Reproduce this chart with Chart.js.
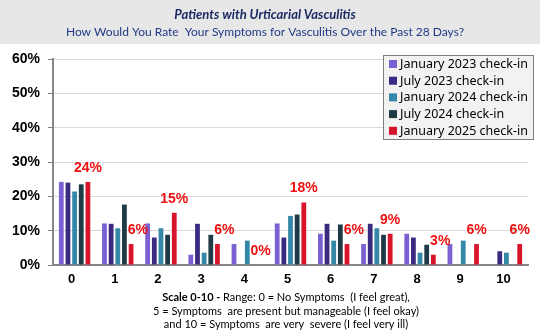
<!DOCTYPE html>
<html>
<head>
<meta charset="utf-8">
<script src="https://cdn.jsdelivr.net/npm/chart.js@4.4.1/dist/chart.umd.min.js"></script>
<style>
  html, body { margin: 0; padding: 0; background: #fff; }
  #wrap { width: 540px; height: 331px; }
</style>
</head>
<body>
<div id="wrap"><canvas id="chart" width="540" height="331"></canvas></div>
<script>
// rating scale 0-10
const categories = ["0", "1", "2", "3", "4", "5", "6", "7", "8", "9", "10"];

// percent of patients per rating
const jan2023 = [24.2, 12.1, 12.1, 3.0, 6.1, 12.1, 9.1, 6.1, 9.1, 6.1, 0];
const jul2023 = [24.0, 12.0, 8.0, 12.0, 0, 8.0, 12.0, 12.0, 8.0, 0, 4.0];
const jan2024 = [21.4, 10.7, 10.7, 3.6, 7.1, 14.3, 7.1, 10.7, 3.6, 7.1, 3.6];
const jul2024 = [23.5, 17.6, 8.8, 8.8, 0, 14.7, 11.8, 8.8, 5.9, 0, 0];
const jan2025 = [24.2, 6.1, 15.2, 6.1, 0, 18.2, 6.1, 9.1, 3.0, 6.1, 6.1];

const seriesNames = ["January 2023 check-in", "July 2023 check-in", "January 2024 check-in", "July 2024 check-in", "January 2025 check-in"];
const seriesColors = ["#7a60d0", "#3a2b80", "#3587a7", "#1f3a47", "#d8142b"];

const yMin = 0, yMax = 60, yStep = 10;

const titleLine1 = "Patients with Urticarial Vasculitis";
const titleLine2 = "How Would You Rate  Your Symptoms for Vasculitis Over the Past 28 Days?";
const footBold = "Scale 0-10 - ";
const footLine1 = "Range: 0 = No Symptoms  (I feel great),";
const footLine2 = "5 = Symptoms  are present but manageable (I feel okay)";
const footLine3 = "and 10 = Symptoms  are very  severe (I feel very ill)";

// grey header band + titles
const headerPlugin = {
    id: "header",
    beforeDraw(chart) {
        const ctx = chart.ctx;
        ctx.save();
        ctx.fillStyle = "#fff";
        ctx.fillRect(0, 0, chart.width, chart.height);
        ctx.fillStyle = "#e7e7e7";
        ctx.fillRect(0, 0, chart.width, 44);
        ctx.textAlign = "center";
        ctx.textBaseline = "middle";
        ctx.fillStyle = "#1b2a63";
        ctx.font = "italic bold 13px Lato";
        ctx.fillText(titleLine1, 265, 15);
        ctx.fillStyle = "#1f3a86";
        ctx.font = "12px Lato";
        ctx.fillText(titleLine2, 265, 32);
        ctx.restore();
    }
}

// footer note below the axis
const footerPlugin = {
    id: "footer",
    afterDraw(chart) {
        const ctx = chart.ctx;
        const cx = 286;
        ctx.save();
        ctx.fillStyle = "#000";
        ctx.textBaseline = "middle";
        ctx.font = "bold 11px Lato";
        const wb = ctx.measureText(footBold).width;
        ctx.font = "11px Lato";
        const wn = ctx.measureText(footLine1).width;
        let x = cx - (wb + wn) / 2;
        ctx.textAlign = "left";
        ctx.font = "bold 11px Lato";
        ctx.fillText(footBold, x, 297);
        ctx.font = "11px Lato";
        ctx.fillText(footLine1, x + wb, 297);
        ctx.textAlign = "center";
        ctx.fillText(footLine2, cx, 311);
        ctx.fillText(footLine3, cx, 324);
        ctx.restore();
    }
}

// boxed legend in the top right corner
const boxLegendPlugin = {
    id: "boxLegend",
    afterDraw(chart) {
        const ctx = chart.ctx;
        const left = 383, top = 55, w = 150, h = 84;
        ctx.save();
        ctx.fillStyle = "#f2f2f2";
        ctx.fillRect(left, top, w, h);
        ctx.strokeStyle = "#7f7f7f";
        ctx.lineWidth = 1;
        ctx.strokeRect(left + 0.5, top + 0.5, w, h);
        ctx.font = "12.5px 'Noto Sans'";
        ctx.textBaseline = "middle";
        ctx.textAlign = "left";
        chart.data.datasets.forEach((ds, i) => {
            const y = top + 9 + i * 16.7;
            ctx.fillStyle = ds.backgroundColor;
            ctx.fillRect(left + 6, y - 4, 8, 8);
            ctx.fillStyle = "#000";
            ctx.fillText(ds.label, left + 17, y + 0.5);
        });
        ctx.restore();
    }
}

// red value labels over the latest check-in bars, nudged right when a taller bar is in the way
const valueLabelPlugin = {
    id: "valueLabels",
    afterDatasetsDraw(chart) {
        const ctx = chart.ctx;
        const last = chart.data.datasets.length - 1;
        const meta = chart.getDatasetMeta(last);
        ctx.save();
        ctx.fillStyle = "#ee1111";
        ctx.font = "bold 14px 'Liberation Sans'";
        ctx.textAlign = "center";
        ctx.textBaseline = "middle";
        meta.data.forEach((bar, i) => {
            const text = Math.round(chart.data.datasets[last].data[i]) + "%";
            const tw = ctx.measureText(text).width;
            let x = bar.x;
            const y = bar.y - 14;
            for (let d = 0; d < last; d++) {
                const other = chart.getDatasetMeta(d).data[i];
                const right = other.x + other.width / 2;
                if (right > x - tw / 2 && other.x < x && other.y < y + 7) {
                    x = right + 1 + tw / 2;
                }
            }
            ctx.fillText(text, x, y);
        });
        ctx.restore();
    }
}

const datasets = [jan2023, jul2023, jan2024, jul2024, jan2025].map((d, i) => ({
    label: seriesNames[i],
    data: d,
    backgroundColor: seriesColors[i],
    borderWidth: 0
}));

new Chart(document.getElementById("chart").getContext("2d"), {
    type: "bar",
    data: { labels: categories, datasets: datasets },
    options: {
        responsive: false,
        devicePixelRatio: 1,
        animation: false,
        layout: { padding: { top: 59, right: 12, left: 0, bottom: 0 } },
        datasets: {
            bar: { categoryPercentage: 0.77, barPercentage: 0.72 }
        },
        plugins: {
            legend: { display: false },
            tooltip: { enabled: false }
        },
        scales: {
            x: {
                afterFit(scale) { scale.height = 66; },
                grid: { color: "rgba(0,0,0,0)", drawTicks: false },
                border: { color: "#868686", width: 2 },
                ticks: {
                    color: "#000",
                    padding: 7,
                    labelOffset: -3,
                    font: { family: "'Liberation Sans'", size: 13, weight: "bold" }
                }
            },
            y: {
                min: yMin,
                max: yMax,
                afterFit(scale) { scale.width = 53; },
                grid: { color: "#d9d9d9", tickColor: "#7f7f7f", tickLength: 5 },
                border: { color: "#868686", width: 2 },
                ticks: {
                    stepSize: yStep,
                    color: "#000",
                    padding: 8,
                    font: { family: "'Liberation Sans'", size: 14, weight: "bold" },
                    callback: v => v + "%"
                }
            }
        }
    },
    plugins: [headerPlugin, valueLabelPlugin, boxLegendPlugin, footerPlugin]
})
</script>
</body>
</html>
